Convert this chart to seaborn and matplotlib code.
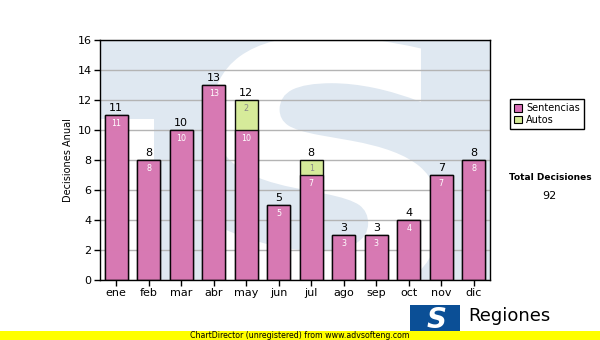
import matplotlib
matplotlib.use("Agg")
import matplotlib.pyplot as plt
from matplotlib.patches import Rectangle, PathPatch
from matplotlib.textpath import TextPath
from matplotlib.font_manager import FontProperties
from matplotlib.transforms import Affine2D
import seaborn as sns
import pandas as pd

# Monthly decisions, split by type
months = ["ene", "feb", "mar", "abr", "may", "jun", "jul", "ago", "sep", "oct", "nov", "dic"]
sentencias = [11, 8, 10, 13, 10, 5, 7, 3, 3, 4, 7, 8]
autos = [0, 0, 0, 0, 2, 0, 1, 0, 0, 0, 0, 0]
yticks = [0, 2, 4, 6, 8, 10, 12, 14, 16]

totals = [s + a for s, a in zip(sentencias, autos)]
grand_total = sum(totals)

df = pd.DataFrame({"mes": months, "Sentencias": sentencias, "Autos": autos, "Total": totals})

PINK = "#d86db6"
GREEN = "#d4ea95"
BG = "#dfe8f1"

W, H = 600, 340
fig = plt.figure(figsize=(W / 100, H / 100), dpi=100)
fig.patch.set_facecolor("white")

ax = fig.add_axes([100 / W, 60 / H, 390 / W, 240 / H])
ax.set_facecolor(BG)

# Watermark logo behind the bars: white notch plus a large S shape
ax.add_patch(Rectangle((-0.5, 0), 1.67, 10.73, facecolor="white", edgecolor="none", zorder=0))
glyph = TextPath((0, 0), "S", size=1,
                 prop=FontProperties(family="DejaVu Sans", weight="bold"))
bb = glyph.get_extents()
x0, x1, ytop, ybot = 212, 440, 36, 298  # pixel box of the watermark
to_px = (Affine2D().translate(-bb.x0, -bb.y0)
         .scale((x1 - x0) / bb.width, (ybot - ytop) / bb.height)
         .translate(x0, H - ybot).scale(1 / 100))
wm = PathPatch(glyph, facecolor="white", edgecolor="none", zorder=0,
               transform=to_px + fig.dpi_scale_trans)
ax.add_patch(wm)
wm.set_clip_path(ax.patch)

ax.set_axisbelow(True)
ax.yaxis.grid(True, color="#b4b4b4", linewidth=1, zorder=1)
ax.xaxis.grid(False)

# Stacked bars: total (autos on top) first, then sentencias over it
sns.barplot(data=df, x="mes", y="Total", order=months, color=GREEN, saturation=1,
            width=0.72, edgecolor="black", linewidth=1, ax=ax, zorder=2, alpha=0.95)
sns.barplot(data=df, x="mes", y="Sentencias", order=months, color=PINK, saturation=1,
            width=0.72, edgecolor="black", linewidth=1, ax=ax, zorder=3, alpha=0.9)

for i, (s, a, t) in enumerate(zip(sentencias, autos, totals)):
    ax.text(i, t + 0.12, str(t), ha="center", va="bottom", fontsize=8, color="black", zorder=5)
    ax.text(i, s - 0.3, str(s), ha="center", va="top", fontsize=5.8, color="white", zorder=5)
    if a > 0:
        ax.text(i, t - 0.3, str(a), ha="center", va="top", fontsize=5.8, color="#8a8a8a", zorder=5)

ax.set_xlim(-0.5, len(months) - 0.5)
ax.set_ylim(0, 16)
ax.set_yticks(yticks)
ax.set_yticklabels([str(v) for v in yticks])
ax.tick_params(axis="both", direction="out", length=4, width=1, color="black",
               labelsize=8, labelcolor="black", pad=2)
ax.set_xlabel("")
ax.set_ylabel("Decisiones Anual", fontsize=7, labelpad=3)
for sp in ax.spines.values():
    sp.set_color("black")
    sp.set_linewidth(1)
    sp.set_zorder(6)

# Legend box
handles = [Rectangle((0, 0), 1, 1, facecolor=PINK, edgecolor="black", linewidth=0.8),
           Rectangle((0, 0), 1, 1, facecolor=GREEN, edgecolor="black", linewidth=0.8)]
fig.legend(handles, ["Sentencias", "Autos"], loc="upper left",
           bbox_to_anchor=(510 / W, 1 - 99 / H), fontsize=7, frameon=True,
           fancybox=False, edgecolor="black", framealpha=1, handlelength=0.8,
           handleheight=0.8, handletextpad=0.4, borderpad=0.45, labelspacing=0.15,
           borderaxespad=0)

fig.text(550 / W, 1 - 178 / H, "Total Decisiones", ha="center", va="center",
         fontsize=6.5, fontweight="bold")
fig.text(549 / W, 1 - 196 / H, str(grand_total), ha="center", va="center", fontsize=8)

# Bottom logo
fig.patches.append(Rectangle((410 / W, 1 - 331 / H), 50 / W, 26 / H, transform=fig.transFigure,
                             facecolor="#0b4f96", edgecolor="none", zorder=1))
fig.text(437 / W, 1 - 320 / H, "S", ha="center", va="center", fontsize=20,
         fontweight="bold", style="italic", color="white", zorder=2)
fig.text(468 / W, 1 - 316 / H, "Regiones", ha="left", va="center", fontsize=13, color="black")

# Footer strip
fig.patches.append(Rectangle((0, 0), 1, 9 / H, transform=fig.transFigure,
                             facecolor="#ffff00", edgecolor="none", zorder=3))
fig.text(300 / W, 4.5 / H, "ChartDirector (unregistered) from www.advsofteng.com",
         ha="center", va="center", fontsize=5.7, color="black", zorder=4)

fig.savefig("out.png", dpi=100, facecolor="white")
